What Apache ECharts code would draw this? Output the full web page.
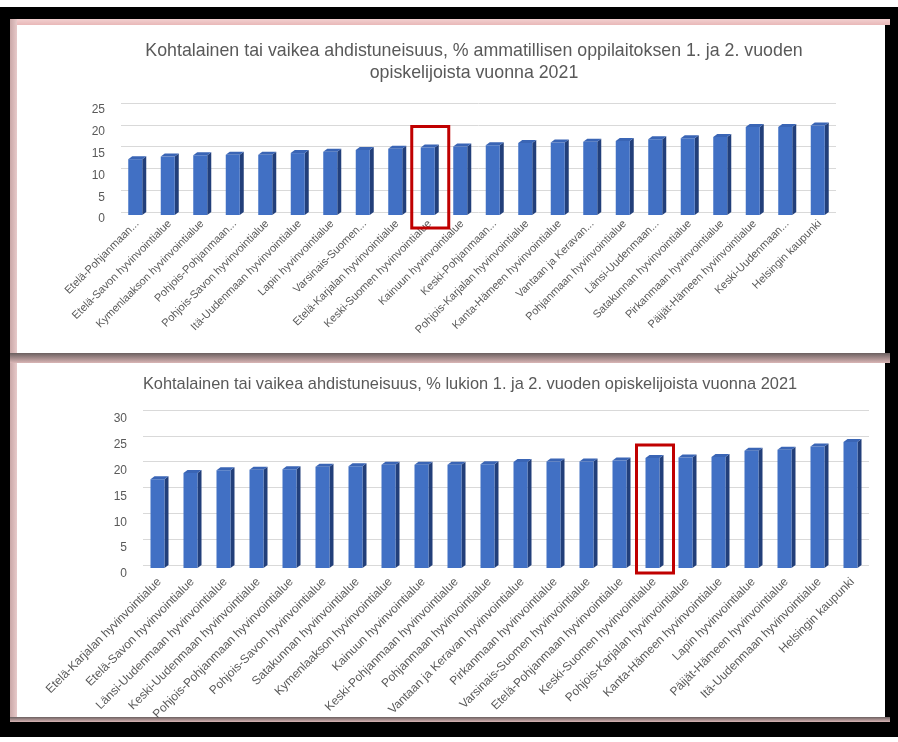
<!DOCTYPE html>
<html>
<head>
<meta charset="utf-8">
<title>Ahdistuneisuus 2021</title>
<script src="https://cdn.jsdelivr.net/npm/echarts@6/dist/echarts.min.js"></script>
<style>
  body { margin: 0; background: #fff; }
  .blk { position: absolute; }
  .panel { position: absolute; background: #fff; }
</style>
</head>
<body>
<div class="blk" style="left:0;top:7px;width:898px;height:730px;background:#000"></div>
<div class="blk" style="left:10px;top:19px;width:880px;height:6px;background:linear-gradient(#f2d0d0,#e9b8b8)"></div>
<div class="blk" style="left:10px;top:19px;width:7px;height:700px;background:linear-gradient(90deg,#c9a7a7,#e7c9c9)"></div>
<div class="blk" style="left:10px;top:353px;width:880px;height:10px;background:linear-gradient(#6b6060,#d9b5b5)"></div>
<div class="blk" style="left:10px;top:717px;width:880px;height:5px;background:linear-gradient(#6b6060,#d9b5b5)"></div>
<div class="panel" style="left:17px;top:25px;width:868px;height:328px"></div>
<div class="panel" style="left:17px;top:363px;width:868px;height:354px"></div>
<div id="main" style="position:absolute;left:0;top:0;width:898px;height:742px"></div>
<script>
// ammatillinen oppilaitos, 1. ja 2. vuosi
var amisRegions = ['Etelä-Pohjanmaan...', 'Etelä-Savon hyvinvointialue', 'Kymenlaakson hyvinvointialue',
  'Pohjois-Pohjanmaan...', 'Pohjois-Savon hyvinvointialue', 'Itä-Uudenmaan hyvinvointialue',
  'Lapin hyvinvointialue', 'Varsinais-Suomen...', 'Etelä-Karjalan hyvinvointialue',
  'Keski-Suomen hyvinvointialue', 'Kainuun hyvinvointialue', 'Keski-Pohjanmaan...',
  'Pohjois-Karjalan hyvinvointialue', 'Kanta-Hämeen hyvinvointialue', 'Vantaan ja Keravan...',
  'Pohjanmaan hyvinvointialue', 'Länsi-Uudenmaan...', 'Satakunnan hyvinvointialue',
  'Pirkanmaan hyvinvointialue', 'Päijät-Hämeen hyvinvointialue', 'Keski-Uudenmaan...',
  'Helsingin kaupunki'];
var amisValues = [12.8, 13.4, 13.7, 13.8, 13.8, 14.2, 14.5, 14.9, 15.2, 15.5, 15.7,
  16.0, 16.5, 16.6, 16.8, 17.0, 17.4, 17.6, 17.9, 20.2, 20.2, 20.5];
var amisTicks = [0, 5, 10, 15, 20, 25];

// lukio, 1. ja 2. vuosi
var lukioRegions = ['Etelä-Karjalan hyvinvointialue', 'Etelä-Savon hyvinvointialue',
  'Länsi-Uudenmaan hyvinvointialue', 'Keski-Uudenmaan hyvinvointialue',
  'Pohjois-Pohjanmaan hyvinvointialue', 'Pohjois-Savon hyvinvointialue',
  'Satakunnan hyvinvointialue', 'Kymenlaakson hyvinvointialue', 'Kainuun hyvinvointialue',
  'Keski-Pohjanmaan hyvinvointialue', 'Pohjanmaan hyvinvointialue',
  'Vantaan ja Keravan hyvinvointialue', 'Pirkanmaan hyvinvointialue',
  'Varsinais-Suomen hyvinvointialue', 'Etelä-Pohjanmaan hyvinvointialue',
  'Keski-Suomen hyvinvointialue', 'Pohjois-Karjalan hyvinvointialue',
  'Kanta-Hämeen hyvinvointialue', 'Lapin hyvinvointialue', 'Päijät-Hämeen hyvinvointialue',
  'Itä-Uudenmaan hyvinvointialue', 'Helsingin kaupunki'];
var lukioValues = [17.2, 18.4, 18.9, 19.0, 19.1, 19.6, 19.7, 20.0, 20.0, 20.0, 20.1,
  20.5, 20.6, 20.6, 20.8, 21.3, 21.4, 21.5, 22.7, 22.9, 23.5, 24.4];
var lukioTicks = [0, 5, 10, 15, 20, 25, 30];

var highlight = 'Keski-Suomen hyvinvointialue';

var title1 = 'Kohtalainen tai vaikea ahdistuneisuus, % ammatillisen oppilaitoksen 1. ja 2. vuoden\nopiskelijoista vuonna 2021';
var title2 = 'Kohtalainen tai vaikea ahdistuneisuus, % lukion 1. ja 2. vuoden opiskelijoista vuonna 2021';

var font = '"Liberation Sans", sans-serif';
var grey = '#595959';

// 3D-tyylinen pylväs: etupinta, oikea kylki ja kansi
function columnRenderer(cats, boxTop, boxBottom) {
  return function (params, api) {
    var i = api.value(0);
    var top = api.coord([i, api.value(1)]);
    var base = api.coord([i, 0]);
    var w = 14, dx = 4, dy = 3;
    var x0 = top[0] - w / 2 - dx / 2, x1 = x0 + w;
    var yT = top[1] + dy, yB = base[1] + dy;
    var kids = [
      { type: 'polygon', shape: { points: [[x1, yT], [x1 + dx, yT - dy], [x1 + dx, yB - dy], [x1, yB]] },
        style: { fill: '#223f7a' } },
      { type: 'rect', shape: { x: x0, y: yT, width: w, height: yB - yT },
        style: { fill: '#4170c4' } },
      { type: 'polygon', shape: { points: [[x0, yT], [x0 + dx, yT - dy], [x1 + dx, yT - dy], [x1, yT]] },
        style: { fill: '#3a65b5' } }
    ];
    if (cats[i] === highlight) {
      kids.push({ type: 'rect',
        shape: { x: top[0] - 18, y: top[1] - boxTop, width: 37, height: base[1] - top[1] + boxTop + boxBottom },
        style: { fill: 'none', stroke: '#c00000', lineWidth: 3 } });
    }
    return { type: 'group', children: kids };
  };
}

function xAxisFor(cats, idx, size, margin) {
  return {
    type: 'category', gridIndex: idx, data: cats,
    axisLine: { show: false }, axisTick: { show: false },
    axisLabel: { interval: 0, rotate: 45, color: grey, fontFamily: font, fontSize: size, margin: margin }
  };
}

function yAxisFor(ticks, idx, shift) {
  return {
    type: 'value', gridIndex: idx, min: ticks[0], max: ticks[ticks.length - 1],
    interval: ticks[1] - ticks[0],
    axisLine: { show: false }, axisTick: { show: false },
    axisLabel: { color: grey, fontFamily: font, fontSize: 12, margin: 16,
      verticalAlign: 'top', lineHeight: 12, padding: [shift, 0, 0, 0] },
    splitLine: { lineStyle: { color: '#d9d9d9' } }
  };
}

var myChart = echarts.init(document.getElementById('main'));
var option = {
  animation: false,
  title: [
    { text: title1, left: 469, top: 35, textAlign: 'center',
      textStyle: { color: grey, fontFamily: font, fontSize: 17.8, fontWeight: 'normal', lineHeight: 22 } },
    { text: title2, left: 465, top: 368, textAlign: 'center',
      textStyle: { color: grey, fontFamily: font, fontSize: 16.4, fontWeight: 'normal', lineHeight: 22 } }
  ],
  grid: [
    { left: 121, top: 103, width: 715, height: 109 },
    { left: 143, top: 410, width: 726, height: 155 }
  ],
  xAxis: [xAxisFor(amisRegions, 0, 11, 10), xAxisFor(lukioRegions, 1, 12, 15)],
  yAxis: [yAxisFor(amisTicks, 0, 1), yAxisFor(lukioTicks, 1, 3)],
  series: [
    { type: 'custom', xAxisIndex: 0, yAxisIndex: 0, encode: { x: 0, y: 1 },
      renderItem: columnRenderer(amisRegions, 18, 16),
      data: amisValues.map(function (v, i) { return [i, v]; }) },
    { type: 'custom', xAxisIndex: 1, yAxisIndex: 1, encode: { x: 0, y: 1 },
      renderItem: columnRenderer(lukioRegions, 10, 8),
      data: lukioValues.map(function (v, i) { return [i, v]; }) }
  ]
};
myChart.setOption(option);
</script>
</body>
</html>
